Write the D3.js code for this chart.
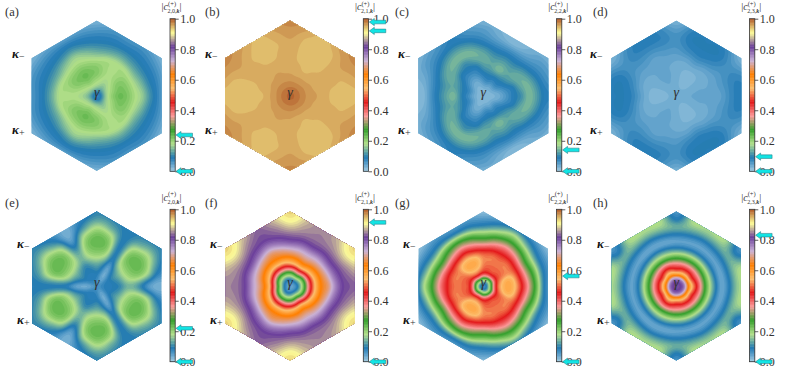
<!DOCTYPE html>
<html>
<head>
<meta charset="utf-8">
<script src="https://cdn.jsdelivr.net/npm/d3@7"></script>
<style>
  body { margin: 0; background: #fff; }
  text { font-family: "Liberation Serif", serif; fill: #333; }
</style>
</head>
<body>
<svg width="793" height="381"></svg>
<script>
// values. each panel has 3-fold + mirror symmetry, so one
// 60 degree wedge is enough: one row per angle, one column per radius (fraction of hexagon radius)
const radii = [0, .05, .1, .15, .2, .3, .4, .5, .6, .7, .8, .9, 1];
const angleStep = 15; // rows are at 0, 15, 30, 45, 60 degrees

const fieldA = [
  [.07, .09, .15, .185, .21, .235, .22, .19, .165, .115, .08, .04, .02],
  [.07, .09, .15, .18, .20, .225, .215, .185, .15, .105, .08, .05, .03],
  [.07, .09, .145, .175, .19, .215, .21, .18, .135, .10, .08, .055, .03],
  [.07, .09, .14, .165, .18, .195, .195, .185, .135, .10, .08, .06, .04],
  [.07, .09, .13, .155, .17, .185, .185, .185, .14, .10, .075, .055, .04]
];
const fieldB = [
  [.995, .99, .985, .975, .97, .965, .956, .951, .945, .944, .944, .948, .955],
  [.995, .99, .985, .975, .97, .961, .955, .952, .951, .949, .953, .96, .965],
  [.995, .99, .985, .975, .97, .96, .956, .955, .956, .957, .962, .968, .975],
  [.995, .99, .985, .975, .969, .957, .953, .947, .946, .947, .95, .96, .965],
  [.995, .99, .985, .975, .968, .957, .946, .944, .943, .944, .944, .946, .95]
];
const fieldC = [
  [.02, .022, .025, .03, .035, .06, .09, .11, .15, .125, .09, .08, .07],
  [.02, .022, .025, .032, .042, .07, .09, .13, .145, .115, .08, .06, .05],
  [.02, .022, .03, .045, .065, .09, .12, .14, .125, .09, .065, .05, .03],
  [.02, .022, .03, .05, .075, .10, .13, .125, .10, .07, .04, .03, .03],
  [.02, .022, .03, .04, .065, .10, .15, .13, .10, .065, .025, .02, .02]
];
const fieldD = [
  [.035, .035, .035, .037, .042, .047, .045, .045, .05, .07, .085, .09, .09],
  [.035, .035, .034, .034, .036, .04, .04, .045, .055, .07, .08, .075, .06],
  [.035, .035, .034, .033, .033, .035, .036, .042, .055, .065, .065, .05, .03],
  [.035, .034, .032, .028, .027, .027, .033, .045, .07, .085, .09, .08, .06],
  [.035, .034, .03, .025, .022, .024, .033, .055, .08, .09, .09, .088, .08]
];
const fieldE = [
  [.07, .075, .085, .09, .09, .10, .14, .135, .095, .05, .03, .035, .04],
  [.07, .07, .08, .085, .09, .12, .175, .205, .21, .18, .115, .08, .06],
  [.07, .07, .08, .085, .10, .135, .19, .225, .24, .225, .18, .125, .10],
  [.06, .055, .05, .055, .07, .105, .165, .205, .215, .19, .135, .105, .09],
  [.06, .05, .04, .03, .03, .045, .08, .09, .09, .09, .09, .09, .10]
];
const fieldF = [
  [.04, .05, .09, .18, .29, .50, .63, .68, .76, .815, .83, .84, .85],
  [.04, .05, .10, .18, .29, .50, .63, .70, .78, .825, .85, .875, .89],
  [.04, .05, .11, .19, .30, .52, .64, .72, .80, .84, .88, .915, .935],
  [.04, .055, .115, .21, .33, .55, .66, .73, .80, .84, .86, .875, .89],
  [.04, .06, .12, .24, .36, .58, .68, .74, .81, .84, .85, .85, .85]
];
const fieldG = [
  [.05, .12, .27, .42, .52, .575, .56, .47, .36, .25, .10, .05, .03],
  [.05, .11, .25, .40, .50, .565, .55, .45, .34, .24, .11, .06, .03],
  [.04, .10, .22, .38, .47, .51, .51, .44, .32, .22, .11, .06, .02],
  [.04, .10, .22, .38, .47, .50, .51, .45, .35, .25, .14, .07, .03],
  [.04, .10, .22, .38, .48, .50, .50, .45, .37, .27, .18, .08, .04]
];
const fieldH = [
  [.82, .82, .78, .64, .55, .40, .24, .12, .04, .085, .155, .185, .18],
  [.82, .82, .78, .64, .53, .39, .24, .115, .04, .09, .155, .185, .17],
  [.82, .82, .77, .63, .50, .38, .24, .11, .045, .09, .14, .09, .06],
  [.82, .82, .77, .63, .52, .38, .24, .11, .045, .09, .15, .185, .17],
  [.82, .82, .77, .63, .52, .38, .24, .11, .045, .085, .15, .18, .18]
];

const letters = ["a", "b", "c", "d", "e", "f", "g", "h"];
const fields = [fieldA, fieldB, fieldC, fieldD, fieldE, fieldF, fieldG, fieldH];
const subscripts = ["2,0,", "2,1,", "2,2,", "2,3,", "2,0,", "2,1,", "2,2,", "2,3,"];
const arrowValues = [[0, .238], [.978, .92], [0, .14], [0, .096], [0, .219], [0, .914], [0, .562], [0, .83]];
const tickValues = [0, .2, .4, .6, .8, 1];

// matplotlib Paired, interpolated
const colorStops = ["#a6cee3", "#1f78b4", "#b2df8a", "#33a02c", "#fb9a99", "#e31a1c",
                    "#fdbf6f", "#ff7f00", "#cab2d6", "#6a3d9a", "#ffff99", "#b15928"];
const color = d3.scaleLinear()
  .domain(colorStops.map((d, i) => i / (colorStops.length - 1)))
  .range(colorStops)
  .interpolate(d3.interpolateRgb);

const levelStep = 0.01;
const levels = d3.range(0, 1, levelStep);

// layout
const centersX = [96.7, 290, 483.3, 676.3];
const labelX = [5, 205, 395, 593];
const kappaX = [[12, 205, 398, 590], [17, 210, 403, 597]];
const rows = [
  { cy: 95.7, R: 75, barTop: 18.7, barBottom: 171.3, labelY: 16, kMinus: 58, kPlus: 134 },
  { cy: 286, R: 74.5, barTop: 209.3, barBottom: 361.7, labelY: 207, kMinus: 248, kPlus: 324 }
];
const barOffset = 73.3, barWidth = 5.2;

const svg = d3.select("svg");
const defs = svg.append("defs");
const radiusIndex = d3.scaleLinear().domain(radii).range(d3.range(radii.length)).clamp(true);

function catmull(p0, p1, p2, p3, t) {
  return 0.5 * (2 * p1 + (p2 - p0) * t + (2 * p0 - 5 * p1 + 4 * p2 - p3) * t * t + (3 * p1 - p0 - 3 * p2 + p3) * t * t * t);
}

// sample the wedge table at radius r (0..1) and angle deg
function lookup(field, r, deg) {
  let a = Math.abs(deg) % 120;
  if (a > 60) a = 120 - a;
  const ai = a / angleStep, ri = radiusIndex(r);
  const a0 = Math.min(Math.floor(ai), 3), r0 = Math.min(Math.floor(ri), radii.length - 2);
  const alongR = row => {
    const v = field[row];
    return catmull(v[Math.max(r0 - 1, 0)], v[r0], v[r0 + 1], v[Math.min(r0 + 2, radii.length - 1)], ri - r0);
  };
  const mirror = i => i < 0 ? -i : i > 4 ? 8 - i : i;
  return catmull(alongR(mirror(a0 - 1)), alongR(a0), alongR(a0 + 1), alongR(mirror(a0 + 2)), ai - a0);
}

function drawPanel(i) {
  const row = rows[i < 4 ? 0 : 1], col = i % 4;
  const cx = centersX[col], cy = row.cy, R = row.R;
  const n = Math.ceil(2 * R) + 4;
  const x0 = cx - n / 2, y0 = cy - n / 2;

  // surface for the contour generator
  const values = new Float64Array(n * n);
  for (let y = 0; y < n; y++) {
    for (let x = 0; x < n; x++) {
      const dx = x + x0 - cx, dy = y + y0 - cy;
      const r = Math.min(Math.hypot(dx, dy) / R, 1);
      values[y * n + x] = lookup(fields[i], r, Math.atan2(dy, dx) * 180 / Math.PI);
    }
  }
  d3.blur2({ data: values, width: n, height: n }, 1);

  const hex = d3.range(6).map(k => {
    const t = Math.PI / 3 * k - Math.PI / 2;
    return [cx + R * Math.cos(t), cy + R * Math.sin(t)];
  });
  defs.append("clipPath").attr("id", "hex" + i)
    .append("polygon").attr("points", hex.join(" "));

  const path = d3.geoPath(d3.geoIdentity().translate([x0, y0]));
  const bands = d3.contours().size([n, n]).thresholds(levels)(values);
  svg.append("g").attr("clip-path", `url(#hex${i})`)
    .selectAll("path")
    .data(bands.filter(d => d.coordinates.length))
    .join("path")
    .attr("d", path)
    .attr("fill", d => color(d.value + levelStep / 2));

  // colorbar
  const barX = cx + barOffset;
  const y = d3.scaleLinear().domain([0, 1]).range([row.barBottom, row.barTop]);
  const bar = svg.append("g");
  bar.selectAll("rect")
    .data(levels)
    .join("rect")
    .attr("x", barX)
    .attr("width", barWidth)
    .attr("y", d => y(d + levelStep))
    .attr("height", y(0) - y(levelStep) + 0.4)
    .attr("fill", d => color(d + levelStep / 2));
  bar.append("rect")
    .attr("x", barX).attr("y", row.barTop)
    .attr("width", barWidth).attr("height", row.barBottom - row.barTop)
    .attr("fill", "none").attr("stroke", "#333").attr("stroke-width", 0.8);

  const axis = svg.append("g")
    .attr("transform", `translate(${barX + barWidth},0)`)
    .call(d3.axisRight(y).tickValues(tickValues).tickFormat(d3.format(".1f")).tickSize(3.5).tickPadding(1.5));
  axis.select(".domain").remove();
  axis.selectAll("line").attr("stroke", "#333").attr("stroke-width", 0.8);
  axis.selectAll("text").attr("font-size", 12).attr("font-family", "Liberation Serif").attr("fill", "#333");

  // title above the bar
  const title = svg.append("text")
    .attr("x", barX + barWidth / 2 - 1).attr("y", row.barTop - 8.5)
    .attr("text-anchor", "middle").attr("font-size", 10);
  title.append("tspan").text("|");
  title.append("tspan").attr("font-style", "italic").text("c");
  title.append("tspan").attr("font-size", 6.5).attr("dy", -4.5).text("(+)");
  title.append("tspan").attr("font-size", 6).attr("dy", 7.5).attr("dx", -8.5).text(subscripts[i]);
  title.append("tspan").attr("font-size", 6).attr("font-weight", "bold").attr("font-style", "italic").text("k");
  title.append("tspan").attr("dy", -3).text("|");

  // cyan arrows
  const arrow = v => {
    const tip = barX + barWidth + 0.8, yv = y(v), head = 5, len = 16.5;
    return [[tip, yv], [tip + head, yv - 3.6], [tip + head, yv - 1.8], [tip + len, yv - 1.8],
            [tip + len, yv + 1.8], [tip + head, yv + 1.8], [tip + head, yv + 3.6]];
  };
  svg.append("g").selectAll("polygon")
    .data(arrowValues[i])
    .join("polygon")
    .attr("points", d => arrow(d).join(" "))
    .attr("fill", "#12e4e4")
    .attr("stroke", "#25707a")
    .attr("stroke-width", 0.5);

  // labels
  svg.append("text").attr("x", labelX[col]).attr("y", row.labelY)
    .attr("font-size", 12.5).attr("fill", "#444").text(`(${letters[i]})`);
  svg.append("text").attr("x", cx).attr("y", cy + 1)
    .attr("text-anchor", "middle").attr("font-size", 14).attr("font-style", "italic").attr("fill", "#111").text("γ");

  const kx = kappaX[i < 4 ? 0 : 1][col];
  [["−", row.kMinus], ["+", row.kPlus]].forEach(([sign, ky]) => {
    const k = svg.append("text").attr("x", kx).attr("y", ky).attr("font-size", 13);
    k.append("tspan").attr("font-weight", "bold").attr("font-style", "italic").attr("fill", "#111").text("κ");
    k.append("tspan").attr("font-size", 10).attr("dy", 2).text(sign);
  });
}

d3.range(fields.length).forEach(drawPanel);
</script>
</body>
</html>
